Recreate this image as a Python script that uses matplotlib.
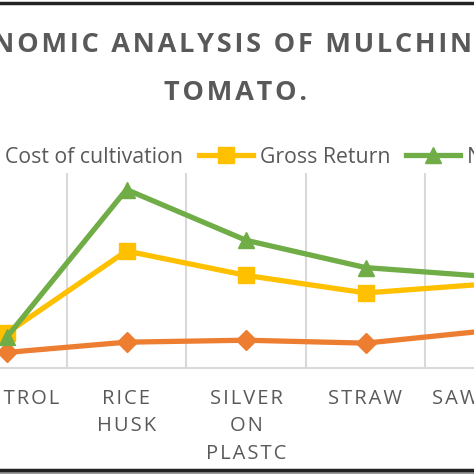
import numpy as np
import matplotlib
matplotlib.use("Agg")
import matplotlib.pyplot as plt
from matplotlib.lines import Line2D

# treatments and values (Rs/ha)
treatments = ["CONTROL", "RICE\nHUSK", "SILVER\nON\nPLASTC", "STRAW", "SAWDUST"]
cost_of_cultivation = [16000, 26500, 28500, 25500, 38000]
gross_return = [36000, 120000, 95000, 77000, 86000]
net_return = [32000, 183000, 131000, 103000, 94000]

TXT = "#595959"
GRID = "#d9d9d9"
FAM = ["Open Sans", "DejaVu Sans"]


def spaced(s, sep="\u200a"):
    # excel style letter spacing
    return "\n".join(sep.join(line) for line in s.split("\n"))


W = 474
fig = plt.figure(figsize=(4.74, 4.74), dpi=100)

# plot area is wider than the crop, so it spills over the left and right edges
step = 119.5
left = 7 - 0.5 * step
ax = fig.add_axes([left / W, (W - 368) / W, 5 * step / W, 195 / W])

x = np.arange(len(treatments))
ax.plot(x, cost_of_cultivation, color="#ed7d31", lw=3.8, marker="D", ms=10,
        label="Cost of cultivation", zorder=3)
ax.plot(x, gross_return, color="#ffc000", lw=3.8, marker="s", ms=11,
        label="Gross Return", zorder=3)
ax.plot(x, net_return, color="#70ad47", lw=3.8, marker="^", ms=12,
        label="Net Return", zorder=3)

ax.set_xlim(-0.5, len(treatments) - 0.5)
ax.set_ylim(0, 200000)
for b in np.arange(-0.5, len(treatments)):
    ax.axvline(b, color=GRID, lw=1.5, zorder=1)
for s in ["top", "left", "right"]:
    ax.spines[s].set_visible(False)
ax.spines["bottom"].set_color(GRID)
ax.spines["bottom"].set_linewidth(1.5)
ax.set_yticks([])
ax.set_xticks(x)
ax.set_xticklabels([spaced(t) for t in treatments], fontsize=14.5, color=TXT,
                   family=FAM, linespacing=1.5, va="top")
ax.tick_params(axis="x", length=0, pad=15)

fig.text(235 / W, 1 - 69 / W,
         spaced("ECONOMIC ANALYSIS OF MULCHING IN\nTOMATO."),
         ha="center", va="center", fontsize=19.5, fontweight="bold",
         color=TXT, family=FAM, linespacing=2.1)

fig.legend(loc="center left", bbox_to_anchor=(-56.5 / W, 1 - 157 / W), ncol=3,
           frameon=False, borderpad=0, borderaxespad=0, handlelength=2.55,
           handletextpad=0.33, columnspacing=0.75,
           prop={"family": FAM, "size": 15.3}, labelcolor=TXT)

# dark frame lines top and bottom
fig.add_artist(Line2D([0, 1], [1 - 3 / W, 1 - 3 / W], color="#222222", lw=2.5))
fig.add_artist(Line2D([0, 1], [1 - 470 / W, 1 - 470 / W], color="#222222", lw=2.5))
fig.patches.append(plt.Rectangle((0, 0), 1, 3 / W, transform=fig.transFigure,
                                 color="#9a9a9a", zorder=0))

fig.savefig("out.png", dpi=100)
